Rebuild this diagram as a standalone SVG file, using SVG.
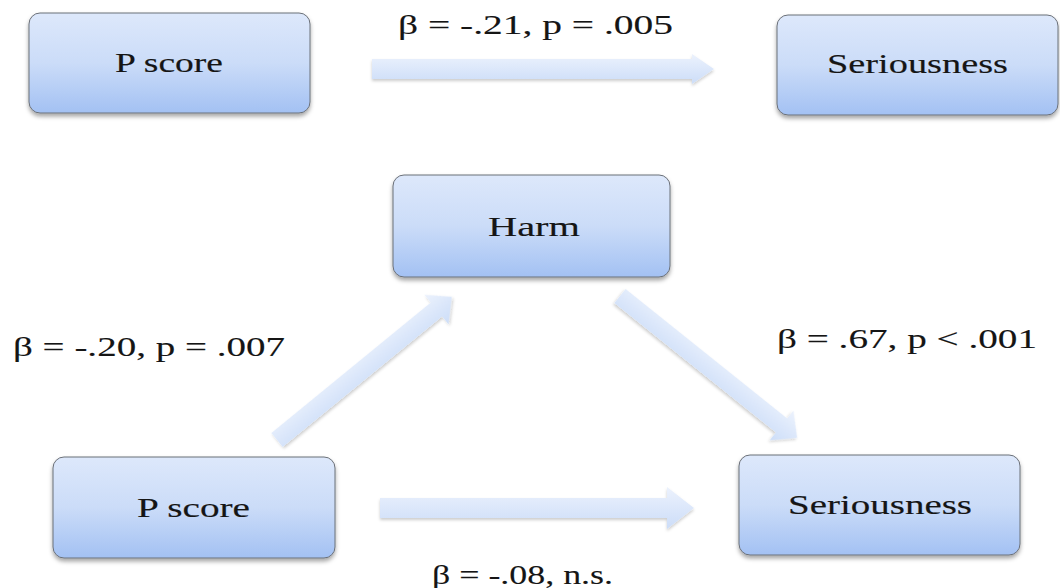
<svg xmlns="http://www.w3.org/2000/svg" width="1060" height="588" viewBox="0 0 1060 588">
  <defs>
    <linearGradient id="boxFill" x1="0" y1="0" x2="0" y2="1">
      <stop offset="0" stop-color="#dde8fb"/>
      <stop offset="0.5" stop-color="#cbdcf8"/>
      <stop offset="1" stop-color="#a3c1f3"/>
    </linearGradient>
    <linearGradient id="arrowFill" x1="0" y1="0" x2="0" y2="1">
      <stop offset="0" stop-color="#ecf2fd"/>
      <stop offset="1" stop-color="#ccddf8"/>
    </linearGradient>
    <filter id="shadow" x="-10%" y="-20%" width="120%" height="150%">
      <feDropShadow dx="0" dy="3" stdDeviation="2" flood-color="#000" flood-opacity="0.35"/>
    </filter>
    <filter id="ashadow" x="-10%" y="-40%" width="120%" height="180%">
      <feDropShadow dx="0" dy="2" stdDeviation="1.5" flood-color="#000" flood-opacity="0.2"/>
    </filter>
  </defs>
  <style>
    .box { fill: url(#boxFill); stroke: #6b7078; stroke-width: 1; filter: url(#shadow); }
    .arrow { fill: url(#arrowFill); stroke: none; filter: url(#ashadow); }
    .lbl { font-family: "Liberation Serif", "Times New Roman", serif; font-size: 27px; fill: #151515; stroke: #151515; stroke-width: 0.15; }
    .stat { font-family: "Liberation Serif", "Times New Roman", serif; font-size: 28px; fill: #151515; stroke: #151515; stroke-width: 0.12; }
  </style>
  <rect width="1060" height="588" fill="#ffffff"/>

  <g id="connectors">
    <polygon class="arrow" points="372,59 692,59 692,54 714,69 692,84 692,79 372,79"/>
    <polygon class="arrow" points="380,498 667,498 667,487 694,508 667,529 667,518 380,518"/>
    <polygon class="arrow" transform="translate(277,440) rotate(-39.3)" points="0,-9 206,-9 206,-19 226,0 206,19 206,9 0,9"/>
    <polygon class="arrow" transform="translate(620,296) rotate(38.7)" points="0,-9 207,-9 207,-19 227,0 207,19 207,9 0,9"/>
    <text class="stat" x="398" y="34" textLength="275" lengthAdjust="spacingAndGlyphs">β = -.21, p = .005</text>
    <text class="stat" x="13" y="356" textLength="272" lengthAdjust="spacingAndGlyphs">β = -.20, p = .007</text>
    <text class="stat" x="777" y="348" textLength="260" lengthAdjust="spacingAndGlyphs">β = .67, p &lt; .001</text>
    <text class="stat" x="432" y="584" textLength="181" lengthAdjust="spacingAndGlyphs">β = -.08, n.s.</text>
  </g>

  <g id="node-pscore-top">
    <rect class="box" x="29" y="13" width="281" height="100" rx="11"/>
    <text class="lbl" x="115" y="72" textLength="108" lengthAdjust="spacingAndGlyphs">P score</text>
  </g>
  <g id="node-seriousness-top">
    <rect class="box" x="777" y="15" width="281" height="100" rx="11"/>
    <text class="lbl" x="827" y="73" textLength="181" lengthAdjust="spacingAndGlyphs">Seriousness</text>
  </g>
  <g id="node-harm">
    <rect class="box" x="393" y="175" width="277" height="102" rx="11"/>
    <text class="lbl" x="488" y="236" textLength="92" lengthAdjust="spacingAndGlyphs">Harm</text>
  </g>
  <g id="node-pscore-bottom">
    <rect class="box" x="53" y="457" width="282" height="101" rx="11"/>
    <text class="lbl" x="137" y="517" textLength="113" lengthAdjust="spacingAndGlyphs">P score</text>
  </g>
  <g id="node-seriousness-bottom">
    <rect class="box" x="739" y="455" width="281" height="100" rx="11"/>
    <text class="lbl" x="788" y="514" textLength="184" lengthAdjust="spacingAndGlyphs">Seriousness</text>
  </g>
</svg>
